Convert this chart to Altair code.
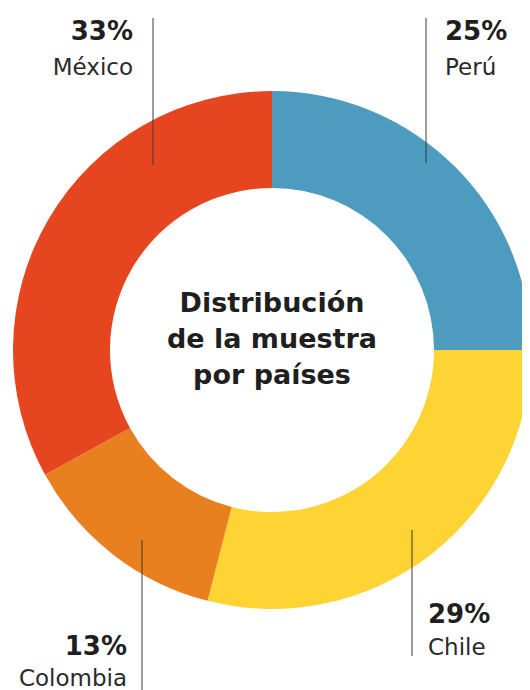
import altair as alt
import pandas as pd

# ---- data ----
countries = ["Perú", "Chile", "Colombia", "México"]
shares = [25, 29, 13, 33]
colors = ["#4D9BBE", "#FDD433", "#E8801F", "#E5461F"]
title_lines = ["Distribución", "de la muestra", "por países"]

# ---- layout (pixel offsets from donut centre) ----
W, H = 514, 682
CX, CY = 264, 342
R_OUT, R_IN = 259, 162
label_dx = [173, 156, -145, -139]
pct_dy = [-310, 273, 305, -310]
name_dy = [-275, 305, 336, -275]
align = ["left", "left", "right", "right"]
lead_dx = [154, 140, -130, -119]
lead_y1 = [-332, 180, 190, -332]
lead_y2 = [-187, 306, 340, -185]
title_dy = [-38, -2, 34]

df = pd.DataFrame({
    "country": countries, "share": shares, "ord": list(range(len(countries))),
    "pct": [f"{s}%" for s in shares],
    "lx": label_dx, "py": pct_dy, "ny": name_dy, "align": align,
    "ldx": lead_dx, "ly1": lead_y1, "ly2": lead_y2,
})
tdf = pd.DataFrame({"t": title_lines, "y": title_dy})

xs = alt.Scale(domain=[-CX, W - CX], range=[0, W])
ys = alt.Scale(domain=[-CY, H - CY], range=[0, H])

base = alt.Chart(df)

arc = base.mark_arc(innerRadius=R_IN, outerRadius=R_OUT).encode(
    theta=alt.Theta("share:Q", stack=True),
    order=alt.Order("ord:Q"),
    color=alt.Color("country:N", scale=alt.Scale(domain=countries, range=colors), legend=None),
    x=alt.datum(0, scale=xs, axis=None),
    y=alt.datum(0, scale=ys, axis=None),
)

leaders = base.mark_rule(color="#3a3a3a", strokeWidth=1).encode(
    x=alt.X("ldx:Q", scale=xs, axis=None),
    y=alt.Y("ly1:Q", scale=ys, axis=None),
    y2="ly2:Q",
)

def labels(al):
    b = alt.Chart(df[df["align"] == al])
    pct = b.mark_text(align=al, baseline="alphabetic", font="DejaVu Sans",
                      fontWeight="bold", fontSize=26, color="#1f1f1f").encode(
        x=alt.X("lx:Q", scale=xs, axis=None), y=alt.Y("py:Q", scale=ys, axis=None), text="pct:N")
    name = b.mark_text(align=al, baseline="alphabetic", font="DejaVu Sans",
                       fontSize=23, color="#2a2a2a").encode(
        x=alt.X("lx:Q", scale=xs, axis=None), y=alt.Y("ny:Q", scale=ys, axis=None), text="country:N")
    return pct + name

centre = alt.Chart(tdf).mark_text(align="center", baseline="alphabetic", font="DejaVu Sans",
                                  fontWeight="bold", fontSize=27, color="#1f1f1f").encode(
    x=alt.datum(0, scale=xs, axis=None),
    y=alt.Y("y:Q", scale=ys, axis=None),
    text="t:N",
)

chart = alt.layer(arc, leaders, labels("left"), labels("right"), centre).properties(
    width=W, height=H, autosize=alt.AutoSizeParams(type="none"), padding=0, background="white"
).configure_view(stroke=None)

chart.save("out.html", embed_options={"renderer": "svg", "actions": False})
